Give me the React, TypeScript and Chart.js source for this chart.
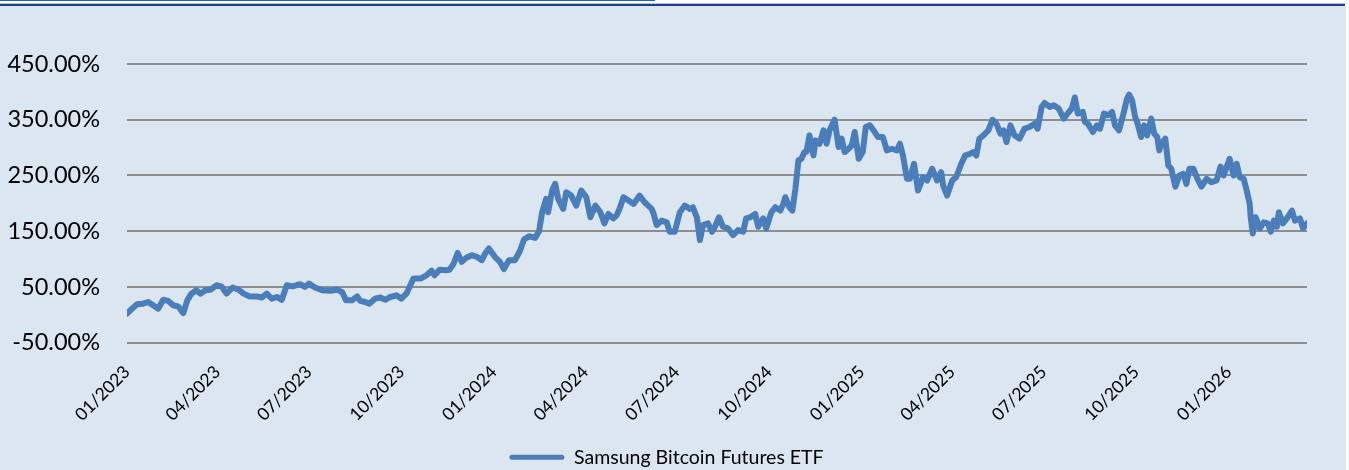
import React, { useEffect, useRef } from "react";
import { Chart, registerables } from "chart.js";

Chart.register(...registerables);

// ---- data ----
const seriesLabel = "Samsung Bitcoin Futures ETF";

// x-axis ticks: days since 2023-01-01 and their labels
const tickDays = [0, 90, 181, 273, 365, 456, 547, 639, 731, 821, 912, 1004, 1096];
const tickLabels = [
  "01/2023", "04/2023", "07/2023", "10/2023",
  "01/2024", "04/2024", "07/2024", "10/2024",
  "01/2025", "04/2025", "07/2025", "10/2025",
  "01/2026",
];

// y-axis range (percent)
const yMin = -50;
const yMax = 450;
const yStep = 100;
const xMax = 1174;

// observation dates as days since 2023-01-01
const days = [
  0, 5, 10, 16, 21, 26, 31, 36, 41, 46,
  51, 56, 60, 64, 69, 73, 78, 83, 89, 94,
  99, 105, 111, 116, 122, 129, 134, 139, 144, 149,
  154, 159, 165, 172, 177, 181, 187, 194, 202, 209,
  214, 218, 224, 229, 232, 237, 241, 247, 252, 257,
  262, 268, 273, 278, 285, 292, 298, 303, 306, 311,
  318, 321, 325, 329, 333, 338, 343, 348, 353, 356,
  360, 366, 371, 375, 380, 386, 391, 395, 400, 406,
  410, 413, 417, 419, 423, 426, 429, 434, 437, 442,
  447, 452, 457, 461, 466, 471, 475, 479, 484, 487,
  490, 494, 499, 504, 510, 515, 522, 524, 527, 532,
  537, 540, 545, 550, 555, 560, 563, 567, 570, 573,
  578, 582, 585, 589, 593, 598, 603, 608, 613, 616,
  620, 625, 628, 633, 636, 641, 645, 650, 653, 655,
  659, 662, 665, 668, 671, 674, 676, 679, 683, 685,
  689, 693, 696, 699, 704, 708, 711, 714, 718, 721,
  724, 728, 732, 735, 739, 744, 747, 752, 756, 761,
  766, 769, 772, 776, 779, 783, 787, 792, 796, 801,
  806, 810, 812, 816, 821, 825, 830, 834, 839, 842,
  845, 848, 852, 857, 861, 865, 869, 872, 875, 879,
  883, 888, 893, 898, 903, 906, 910, 913, 918, 922,
  927, 932, 937, 940, 943, 946, 951, 953, 956, 961,
  965, 968, 972, 976, 980, 983, 987, 991, 995, 997,
  1000, 1003, 1005, 1009, 1012, 1015, 1019, 1022, 1025, 1027,
  1029, 1033, 1036, 1039, 1043, 1047, 1051, 1054, 1057, 1061,
  1065, 1069, 1074, 1079, 1084, 1088, 1091, 1097, 1101, 1104,
  1107, 1111, 1114, 1117, 1118, 1120, 1123, 1127, 1131, 1135,
  1138, 1141, 1144, 1146, 1150, 1154, 1159, 1162, 1167, 1170,
  1174,
];

// cumulative return (%)
const values = [
  2, 11, 19, 20, 23, 17, 11, 27, 25, 17,
  15, 3, 26, 38, 44, 38, 44, 45, 53, 51,
  38, 49, 45, 38, 33, 33, 31, 38, 29, 32,
  27, 53, 51, 55, 50, 56, 49, 44, 43, 45,
  41, 26, 26, 33, 25, 23, 20, 29, 31, 27,
  32, 35, 29, 38, 65, 65, 71, 79, 71, 81,
  80, 81, 92, 111, 95, 103, 107, 104, 98, 109,
  119, 104, 95, 82, 98, 98, 115, 135, 141, 138,
  150, 184, 208, 184, 223, 235, 208, 190, 220, 214,
  196, 223, 211, 175, 196, 184, 164, 181, 173, 178,
  190, 211, 205, 199, 214, 202, 190, 181, 161, 169,
  166, 149, 149, 184, 196, 190, 193, 175, 134, 161,
  164, 149, 158, 175, 158, 155, 143, 152, 149, 173,
  175, 181, 158, 173, 155, 184, 193, 187, 199, 211,
  193, 187, 226, 277, 280, 292, 292, 322, 286, 313,
  307, 331, 307, 331, 350, 301, 316, 292, 298, 304,
  328, 280, 292, 337, 340, 328, 319, 319, 295, 298,
  295, 307, 286, 244, 244, 271, 223, 247, 241, 262,
  241, 256, 232, 214, 241, 247, 271, 286, 289, 292,
  286, 316, 322, 331, 350, 343, 325, 331, 310, 340,
  322, 316, 334, 337, 343, 334, 373, 380, 373, 376,
  370, 352, 364, 370, 390, 361, 364, 346, 343, 328,
  340, 334, 361, 358, 364, 340, 331, 358, 388, 395,
  385, 355, 346, 319, 340, 322, 352, 325, 319, 295,
  307, 316, 268, 262, 230, 250, 253, 235, 262, 262,
  244, 230, 244, 238, 241, 266, 250, 280, 250, 271,
  247, 244, 223, 199, 175, 146, 175, 155, 166, 164,
  149, 169, 158, 184, 164, 173, 187, 169, 173, 155,
  164,
];

// ---- styles ----
const LINE = "#4a7ebb";
const GRID = "#8e8e8e";
const BG = "#dce6f1";
const FONT = "Lato, 'Open Sans', sans-serif";
const CANVAS_W = 1346;
const CANVAS_H = 470;
const PLOT_BOTTOM = 335.7;
const LEGEND_SHIFT = 13;

const legendShift = {
  id: "legendShift",
  afterLayout(chart: any) {
    const lg = chart.legend;
    if (lg) {
      lg.left += LEGEND_SHIFT;
      lg.right += LEGEND_SHIFT;
    }
  },
};

export default function App() {
  const ref = useRef<HTMLCanvasElement>(null);

  useEffect(() => {
    const canvas = ref.current;
    if (!canvas) return;
    const chart = new Chart(canvas, {
      type: "line",
      data: {
        datasets: [
          {
            label: seriesLabel,
            data: days.map((d, i) => ({ x: d, y: values[i] })),
            borderColor: LINE,
            backgroundColor: LINE,
            borderWidth: 6,
            pointRadius: 0,
            tension: 0,
            fill: false,
            borderJoinStyle: "round",
            borderCapStyle: "round",
          },
        ],
      },
      plugins: [legendShift],
      options: {
        responsive: false,
        maintainAspectRatio: false,
        animation: false,
        layout: { padding: { top: 57, right: 39, left: 0, bottom: 0 } },
        plugins: {
          tooltip: { enabled: false },
          legend: {
            position: "bottom",
            labels: {
              boxWidth: 55,
              boxHeight: 5,
              useBorderRadius: true,
              borderRadius: 2.5,
              padding: 10,
              color: "#000",
              font: { size: 19.5, family: FONT },
              generateLabels: (c: any) =>
                Chart.defaults.plugins.legend.labels
                  .generateLabels(c)
                  .map((l: any) => ({ ...l, fillStyle: LINE, strokeStyle: LINE, lineWidth: 0 })),
            },
          },
        },
        scales: {
          x: {
            type: "linear",
            min: 0,
            max: xMax,
            grid: { display: false, drawTicks: false },
            border: { display: false },
            afterBuildTicks: (s: any) => {
              s.ticks = tickDays.map((v) => ({ value: v }));
            },
            afterFit: (s: any) => {
              const lh = s.chart.legend ? s.chart.legend.height : 39;
              s.height = CANVAS_H - lh - PLOT_BOTTOM;
            },
            ticks: {
              autoSkip: false,
              minRotation: 45,
              maxRotation: 45,
              padding: 19,
              color: "#000",
              font: { size: 17.5, family: FONT },
              callback: (v: any) => {
                const i = tickDays.indexOf(Number(v));
                return i >= 0 ? tickLabels[i] : "";
              },
            },
          },
          y: {
            type: "linear",
            min: yMin,
            max: yMax,
            afterFit: (s: any) => {
              s.width = 127;
            },
            grid: { color: GRID, lineWidth: 2, drawTicks: false },
            border: { display: false },
            ticks: {
              stepSize: yStep,
              padding: 27,
              color: "#000",
              font: { size: 23.5, family: FONT },
              callback: (v: any) => Number(v).toFixed(2) + "%",
            },
          },
        },
      },
    } as any);
    return () => chart.destroy();
  }, []);

  return (
    <div
      style={{
        position: "absolute",
        left: 0,
        top: 0,
        width: 1349,
        height: 470,
        overflow: "hidden",
        background: "#fff",
      }}
    >
      <div style={{ position: "absolute", left: 0, top: 0, width: 655, height: 1, background: "#1565b8" }} />
      <div style={{ position: "absolute", left: 0, top: 3, width: 1346, height: 1, background: "#b9c2d0" }} />
      <div style={{ position: "absolute", left: 0, top: 4, width: 1345, height: 2, background: "#1c3f94" }} />
      <div style={{ position: "absolute", left: 0, top: 6, width: CANVAS_W, height: 464, background: BG }} />
      <canvas
        ref={ref}
        width={CANVAS_W}
        height={CANVAS_H}
        style={{ position: "absolute", left: 0, top: 7, width: CANVAS_W, height: CANVAS_H }}
      />
    </div>
  );
}
